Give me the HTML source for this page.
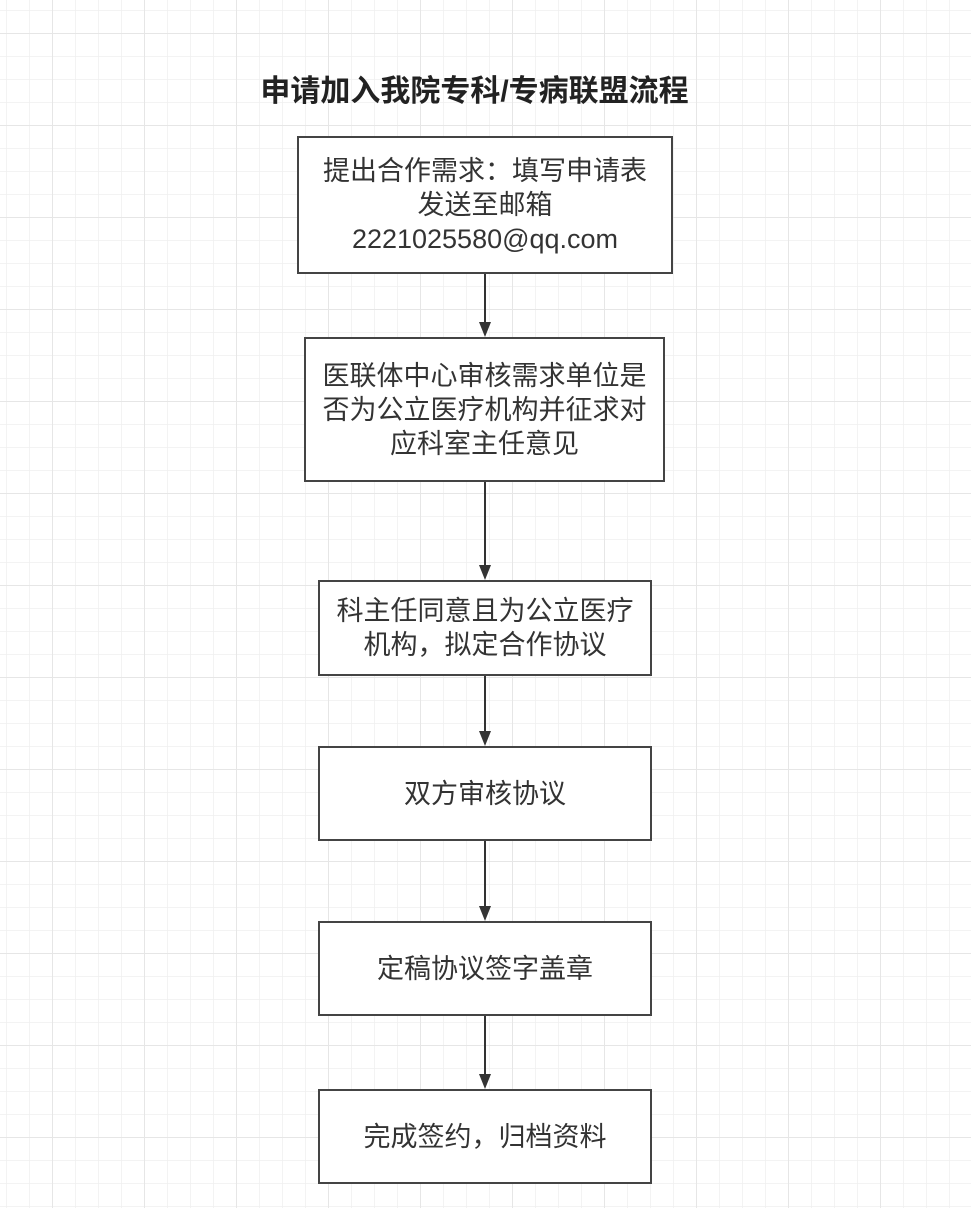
<!DOCTYPE html>
<html><head><meta charset="utf-8"><style>
html,body{margin:0;padding:0}
body{width:971px;height:1208px;position:relative;overflow:hidden;background:#fff;font-family:"Liberation Sans","Noto Sans CJK SC",sans-serif}
.box{position:absolute;box-sizing:border-box;border:2px solid #444;background:#fff;display:flex;align-items:center;justify-content:center;text-align:center;font-size:27px;line-height:34px;color:#333}
.t{position:absolute;left:0;width:949px;top:74px;line-height:36px;text-align:center;font-size:30px;font-weight:bold;color:#222}
</style></head><body>
<svg width="971" height="1208" style="position:absolute;left:0;top:0">
<defs>
<pattern id="m" x="6" y="10" width="23" height="23" patternUnits="userSpaceOnUse"><path d="M0 0V23M0 0H23" stroke="#efefef" stroke-width="1.5" fill="none"/></pattern>
<pattern id="M" x="52" y="33" width="92" height="92" patternUnits="userSpaceOnUse"><path d="M0 0V92M0 0H92" stroke="#e6e6e6" stroke-width="2" fill="none"/></pattern>
</defs>
<rect width="971" height="1208" fill="url(#m)"/>
<rect width="971" height="1208" fill="url(#M)"/>
<g stroke="#333" stroke-width="2">
<line x1="485" y1="273" x2="485" y2="326"/>
<line x1="485" y1="481" x2="485" y2="569"/>
<line x1="485" y1="675" x2="485" y2="735"/>
<line x1="485" y1="840" x2="485" y2="910"/>
<line x1="485" y1="1015" x2="485" y2="1078"/>
</g>
<g fill="#333">
<polygon points="479,322 491,322 485,337"/>
<polygon points="479,565 491,565 485,580"/>
<polygon points="479,731 491,731 485,746"/>
<polygon points="479,906 491,906 485,921"/>
<polygon points="479,1074 491,1074 485,1089"/>
</g>
</svg>
<div class="t">申请加入我院专科/专病联盟流程</div>
<div class="box" style="left:297px;top:136px;width:376px;height:138px">提出合作需求：填写申请表<br>发送至邮箱<br>2221025580@qq.com</div>
<div class="box" style="left:304px;top:337px;width:361px;height:145px">医联体中心审核需求单位是<br>否为公立医疗机构并征求对<br>应科室主任意见</div>
<div class="box" style="left:318px;top:580px;width:334px;height:96px">科主任同意且为公立医疗<br>机构，拟定合作协议</div>
<div class="box" style="left:318px;top:746px;width:334px;height:95px">双方审核协议</div>
<div class="box" style="left:318px;top:921px;width:334px;height:95px">定稿协议签字盖章</div>
<div class="box" style="left:318px;top:1089px;width:334px;height:95px">完成签约，归档资料</div>
</body></html>
